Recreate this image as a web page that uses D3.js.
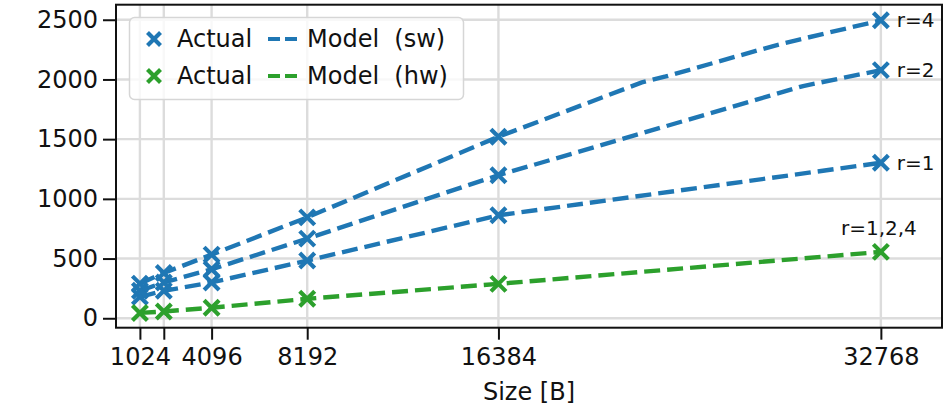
<!DOCTYPE html>
<meta charset="utf-8">
<script src="https://d3js.org/d3.v7.min.js"></script>
<style>
  body { margin: 0; background: #fff; }
  text { font-family: "DejaVu Sans", sans-serif; fill: #111; }
</style>
<body>
<div id="chart"></div>
<script>

// measured sizes and values
var sizes = [1024, 2048, 4096, 8192, 16384, 32768];
var xTickLabels = ["1024", "", "4096", "8192", "16384", "32768"];
var yTicks = [0, 500, 1000, 1500, 2000, 2500];

var actualR1 = [180, 230, 300, 483, 862, 1302];
var actualR2 = [230, 300, 410, 667, 1198, 2078];
var actualR4 = [290, 380, 533, 845, 1520, 2495];
var actualHw = [45, 57, 88, 163, 288, 556];

// model curves (dashed), with a few extra points where the line bends
var modelR1Sizes = [1024, 2048, 4096, 8192, 16384, 32768];
var modelR1 = [180, 230, 300, 483, 862, 1302];
var modelR2Sizes = [1024, 2048, 4096, 8192, 16384, 29440, 32768];
var modelR2 = [230, 300, 410, 667, 1198, 1945, 2078];
var modelR4Sizes = [1024, 2048, 4096, 8192, 16384, 22528, 23552, 28160, 29184, 32768];
var modelR4 = [290, 380, 533, 845, 1520, 1975, 2025, 2280, 2330, 2495];
var modelHwSizes = [1024, 2048, 4096, 8192, 16384, 32768];
var modelHw = [45, 57, 88, 163, 288, 556];

var labelsSw = ["r=1", "r=2", "r=4"];
var labelHw = "r=1,2,4";

var blue = "#1f77b4", green = "#2ca02c";

var W = 945, H = 405;
var mLeft = 116, mRight = 942, mTop = 4.7, mBottom = 327.7;

var svg = d3.select("#chart").append("svg")
    .attr("width", W)
    .attr("height", H);

var x = d3.scaleLinear().domain([0, 35387]).range([mLeft, mRight]);
var y = d3.scaleLinear().domain([-79, 2626]).range([mBottom, mTop]);

// grid
svg.append("g").selectAll("line").data(sizes).enter().append("line")
    .attr("x1", function(d) { return x(d); }).attr("x2", function(d) { return x(d); })
    .attr("y1", mTop).attr("y2", mBottom)
    .attr("stroke", "#dcdcdc").attr("stroke-width", 2.4);
svg.append("g").selectAll("line").data(yTicks).enter().append("line")
    .attr("y1", function(d) { return y(d); }).attr("y2", function(d) { return y(d); })
    .attr("x1", mLeft).attr("x2", mRight)
    .attr("stroke", "#dcdcdc").attr("stroke-width", 2.4);

// axes
var xAxis = svg.append("g")
    .attr("transform", "translate(0," + mBottom + ")")
    .call(d3.axisBottom(x).tickValues(sizes).tickSizeOuter(0).tickSize(12).tickPadding(8)
      .tickFormat(function(d, i) { return xTickLabels[i]; }));
var yAxis = svg.append("g")
    .attr("transform", "translate(" + mLeft + ",0)")
    .call(d3.axisLeft(y).tickValues(yTicks).tickSizeOuter(0).tickSize(13).tickPadding(5)
      .tickFormat(d3.format("d")));
[xAxis, yAxis].forEach(function(a) {
  a.attr("font-size", null).attr("font-family", null);
  a.select(".domain").remove();
  a.selectAll(".tick line").attr("stroke", "#111").attr("stroke-width", 2);
  a.selectAll(".tick text").style("font-size", "24px").attr("fill", "#111");
});

svg.append("text")
    .attr("x", (mLeft + mRight) / 2)
    .attr("y", 400)
    .attr("text-anchor", "middle")
    .style("font-size", "24px")
    .text("Size [B]");

// model lines
var line = d3.line()
    .x(function(d) { return x(d[0]); })
    .y(function(d) { return y(d[1]); });

var models = [
  {s: modelR1Sizes, v: modelR1, c: blue},
  {s: modelR2Sizes, v: modelR2, c: blue},
  {s: modelR4Sizes, v: modelR4, c: blue},
  {s: modelHwSizes, v: modelHw, c: green}
];
models.forEach(function(m) {
  svg.append("path")
    .datum(d3.zip(m.s, m.v))
    .attr("d", line)
    .attr("fill", "none")
    .attr("stroke", m.c)
    .attr("stroke-width", 4.4)
    .attr("stroke-dasharray", "16,7");
});

// x markers
function cross(g, cx, cy, col, r) {
  g.append("path")
    .attr("d", "M" + (cx - r) + "," + (cy - r) + "L" + (cx + r) + "," + (cy + r) +
               "M" + (cx - r) + "," + (cy + r) + "L" + (cx + r) + "," + (cy - r))
    .attr("stroke", col)
    .attr("stroke-width", 4.2)
    .attr("fill", "none");
}
var actuals = [
  {v: actualR1, c: blue},
  {v: actualR2, c: blue},
  {v: actualR4, c: blue},
  {v: actualHw, c: green}
];
var markers = svg.append("g");
actuals.forEach(function(a) {
  a.v.forEach(function(v, i) { cross(markers, x(sizes[i]), y(v), a.c, 7.5); });
});

// annotations
var last = sizes.length - 1;
[actualR1, actualR2, actualR4].forEach(function(a, i) {
  svg.append("text")
    .attr("x", x(sizes[last]) + 16)
    .attr("y", y(a[last]) + 7)
    .style("font-size", "20px")
    .text(labelsSw[i]);
});
svg.append("text")
    .attr("x", x(sizes[last]) - 2)
    .attr("y", y(actualHw[last]) - 17)
    .attr("text-anchor", "middle")
    .style("font-size", "20px")
    .text(labelHw);

// frame
svg.append("rect")
    .attr("x", mLeft).attr("y", mTop)
    .attr("width", mRight - mLeft).attr("height", mBottom - mTop)
    .attr("fill", "none").attr("stroke", "#111").attr("stroke-width", 2);

// legend
var lg = svg.append("g");
lg.append("rect")
    .attr("x", 129.5).attr("y", 17.5).attr("width", 334).attr("height", 82).attr("rx", 5)
    .attr("fill", "white").attr("fill-opacity", 0.8)
    .attr("stroke", "#d6d6d6").attr("stroke-width", 1.5);
[{c: blue, t: "Model  (sw)", yy: 39}, {c: green, t: "Model  (hw)", yy: 76}].forEach(function(r) {
  cross(lg, 154, r.yy, r.c, 6.5);
  lg.append("text").attr("x", 177).attr("y", r.yy + 8).style("font-size", "24px").text("Actual");
  lg.append("line")
    .attr("x1", 268).attr("x2", 298).attr("y1", r.yy).attr("y2", r.yy)
    .attr("stroke", r.c).attr("stroke-width", 4.2).attr("stroke-dasharray", "12,5");
  lg.append("text").attr("x", 307).attr("y", r.yy + 8).style("font-size", "24px")
    .style("white-space", "pre").text(r.t);
});

</script>
</body>
